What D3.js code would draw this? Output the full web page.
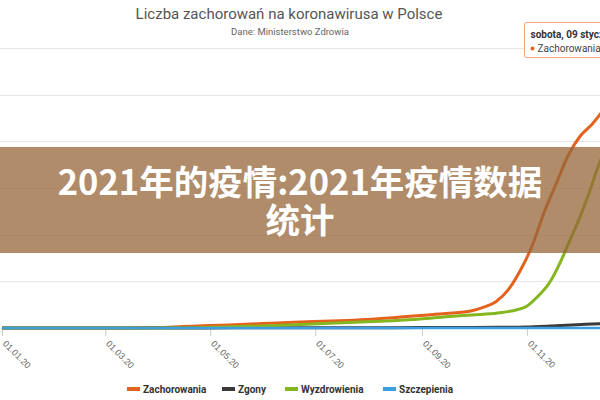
<!DOCTYPE html>
<html>
<head>
<meta charset="utf-8">
<script src="https://cdn.jsdelivr.net/npm/d3@7"></script>
<style>
  body { margin: 0; background: #fff; }
  svg { display: block; font-family: Roboto, "Noto Sans", sans-serif; }
</style>
</head>
<body>
<svg id="chart" width="600" height="400"></svg>
<script>
// data (cumulative counts)
const caseDates = ["2020-01-01","2020-03-03","2020-03-15","2020-03-31","2020-04-15","2020-04-30","2020-05-15","2020-05-31","2020-06-15","2020-06-30","2020-07-15","2020-07-31","2020-08-15","2020-08-31","2020-09-15","2020-09-30","2020-10-07","2020-10-14","2020-10-21","2020-10-28","2020-11-04","2020-11-11","2020-11-18","2020-11-25","2020-12-02","2020-12-09","2020-12-16","2020-12-23","2020-12-30","2021-01-06","2021-01-09"];
const cases = [0,0,119,2311,7582,12877,17615,23786,29788,34393,38721,45688,55319,67372,77260,92544,111599,141000,202579,305000,439536,618813,772823,924422,1028610,1093000,1171000,1223000,1281000,1338000,1370000];

const recDates = ["2020-01-01","2020-03-15","2020-04-15","2020-04-30","2020-05-31","2020-06-30","2020-07-31","2020-08-15","2020-08-31","2020-09-15","2020-09-30","2020-10-15","2020-10-31","2020-11-07","2020-11-14","2020-11-21","2020-11-26","2020-12-01","2020-12-07","2020-12-13","2020-12-20","2020-12-27","2021-01-03","2021-01-09"];
const recoveries = [0,0,700,3000,11000,22000,33000,39000,48000,60000,70000,80000,112000,166000,241000,364000,471000,575000,720000,880000,1020000,1110000,1170000,1220000];

const deathDates = ["2020-01-01","2020-03-31","2020-04-30","2020-05-31","2020-06-30","2020-07-31","2020-08-31","2020-09-30","2020-10-15","2020-10-31","2020-11-15","2020-11-30","2020-12-13","2020-12-31","2021-01-09"];
const deaths = [0,33,644,1061,1463,1716,2039,2630,3573,5783,11000,17150,23000,28554,31000];

const vacDates = ["2020-01-01","2020-12-27","2020-12-31","2021-01-05","2021-01-09"];
const vaccinations = [0,0,10000,80000,150000];

const seriesNames = ["Zachorowania","Zgony","Wyzdrowienia","Szczepienia"];
const seriesColors = ["#e5621c","#3a3a3a","#84b71f","#3d9de3"];
const tickDates = ["2020-01-01","2020-03-01","2020-05-01","2020-07-01","2020-09-01","2020-11-01"];
const yTicks = [0,250000,500000,750000,1000000,1250000,1500000];

const parse = d3.timeParse("%Y-%m-%d");
const zip = (ds, vs) => ds.map((d, i) => ({date: parse(d), value: vs[i]}));
const series = [
  zip(caseDates, cases),
  zip(deathDates, deaths),
  zip(recDates, recoveries),
  zip(vacDates, vaccinations)
];

const svg = d3.select("#chart");

const x = d3.scaleTime()
  .domain([parse("2020-01-01"), parse("2021-01-09")])
  .range([2, 2 + 374 * 1.721]);
const y = d3.scaleLinear().domain([0, 1500000]).range([328, 48]);

// grid
svg.append("g").selectAll("line").data(yTicks).enter().append("line")
  .attr("x1", 0).attr("x2", 600)
  .attr("y1", d => Math.round(y(d)) + 0.5).attr("y2", d => Math.round(y(d)) + 0.5)
  .style("stroke", "#e6e6e6");

// x axis
const xAxis = svg.append("g").attr("transform", "translate(0,328)")
  .call(d3.axisBottom(x).tickValues(tickDates.map(parse)).tickFormat(d3.timeFormat("%d.%m.%y")).tickSize(8));
xAxis.select(".domain").remove();
xAxis.selectAll(".tick line").style("stroke", "#ccc");
xAxis.selectAll(".tick text")
  .attr("x", 0).attr("y", 0).attr("dy", "0.35em")
  .style("fill", "#666").style("font-size", "9px")
  .attr("text-anchor", "start")
  .attr("transform", "translate(2,14) rotate(45)");

// lines
const line = d3.line().x(d => x(d.date)).y(d => y(d.value)).curve(d3.curveMonotoneX);
svg.append("g").selectAll("path").data(series).enter().append("path")
  .attr("d", line)
  .style("fill", "none")
  .style("stroke", (d, i) => seriesColors[i])
  .style("stroke-width", (d, i) => i == 3 ? 2.5 : 3)
  .style("stroke-linejoin", "round");

// title
svg.append("text").attr("x", 289).attr("y", 19).attr("text-anchor", "middle")
  .style("font-size", "15px").style("fill", "#555").text("Liczba zachorowań na koronawirusa w Polsce");
svg.append("text").attr("x", 290).attr("y", 35).attr("text-anchor", "middle")
  .style("font-size", "9.5px").style("fill", "#666").text("Dane: Ministerstwo Zdrowia");

// tooltip (cut at the right edge)
const tip = svg.append("g").attr("transform", "translate(524.5,22.5)");
tip.append("rect").attr("width", 90).attr("height", 35).attr("rx", 2)
  .style("fill", "#fff").style("stroke", "#f2a57a");
tip.append("text").attr("x", 6).attr("y", 15).style("font-size", "10px").style("font-weight", "bold")
  .style("fill", "#333").text("sobota, 09 stycznia 2021");
tip.append("circle").attr("cx", 8).attr("cy", 26).attr("r", 2).style("fill", seriesColors[0]);
tip.append("text").attr("x", 13).attr("y", 29.5).style("font-size", "10px").style("fill", "#444").text("Zachorowania: 1 370 000");

// legend
const legX = [127, 222, 285, 383];
const leg = svg.append("g").selectAll("g").data(seriesNames).enter().append("g")
  .attr("transform", (d, i) => "translate(" + legX[i] + ",389)");
leg.append("rect").attr("x", 0).attr("y", -2).attr("width", 13).attr("height", 4)
  .style("fill", (d, i) => seriesColors[i]);
leg.append("text").attr("x", 16).attr("y", 3.5).style("font-size", "10px").style("font-weight", "bold")
  .style("fill", "#333").text(d => d);

// banner over the chart
svg.append("rect").attr("x", 0).attr("y", 147).attr("width", 600).attr("height", 106)
  .style("fill", "rgb(150,102,56)").style("fill-opacity", 0.75);
const banner = svg.append("text").attr("text-anchor", "middle")
  .style("font-family", "'Noto Sans CJK SC', sans-serif").style("font-weight", "bold")
  .style("font-size", "34.5px").style("fill", "#fff");
banner.append("tspan").attr("x", 300).attr("y", 195).text("2021年的疫情:2021年疫情数据");
banner.append("tspan").attr("x", 300).attr("y", 233).text("统计");
</script>
</body>
</html>
